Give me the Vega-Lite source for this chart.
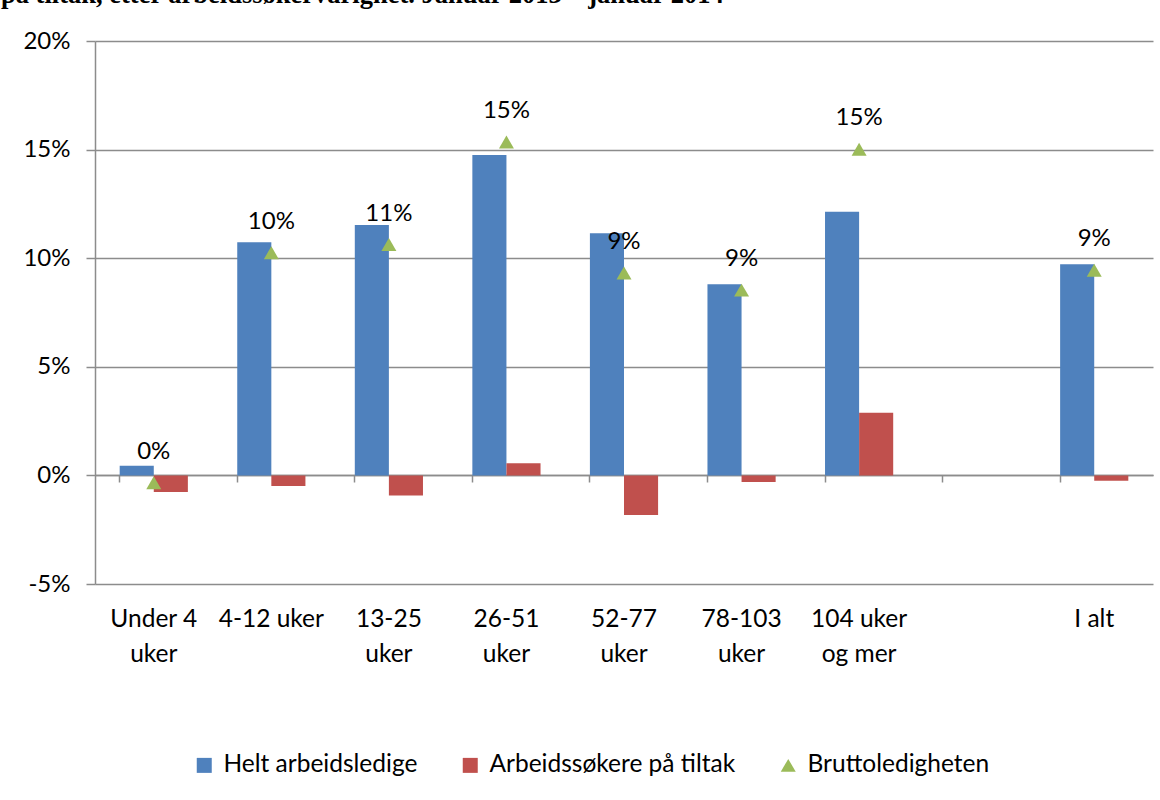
{
  "$schema": "https://vega.github.io/schema/vega-lite/v6.json",
  "autosize": {"type": "none"},
  "width": 1058,
  "height": 543,
  "padding": {"left": 95, "top": 41, "right": 7, "bottom": 216},
  "background": "white",
  "title": {
    "text": "på tiltak, etter arbeidssøkervarighet. Januar 2013 – januar 2014",
    "font": "Liberation Serif",
    "fontSize": 26.5,
    "fontWeight": "bold",
    "color": "black",
    "anchor": "start",
    "frame": "group",
    "dx": -94,
    "dy": -21,
    "offset": 0
  },
  "config": {
    "view": {"stroke": null},
    "font": "Lato",
    "axis": {"labelFont": "Lato", "labelColor": "black", "titleFont": "Lato"}
  },
  "data": {
    "values": [
      {"kategori": "Under 4 uker", "serie": "Helt arbeidsledige", "verdi": 0.0044},
      {"kategori": "Under 4 uker", "serie": "Arbeidssøkere på tiltak", "verdi": -0.0076},
      {"kategori": "Under 4 uker", "serie": "Bruttoledigheten", "verdi": -0.0034},
      {"kategori": "4-12 uker", "serie": "Helt arbeidsledige", "verdi": 0.1073},
      {"kategori": "4-12 uker", "serie": "Arbeidssøkere på tiltak", "verdi": -0.0049},
      {"kategori": "4-12 uker", "serie": "Bruttoledigheten", "verdi": 0.1025},
      {"kategori": "13-25 uker", "serie": "Helt arbeidsledige", "verdi": 0.1153},
      {"kategori": "13-25 uker", "serie": "Arbeidssøkere på tiltak", "verdi": -0.0093},
      {"kategori": "13-25 uker", "serie": "Bruttoledigheten", "verdi": 0.1063},
      {"kategori": "26-51 uker", "serie": "Helt arbeidsledige", "verdi": 0.1475},
      {"kategori": "26-51 uker", "serie": "Arbeidssøkere på tiltak", "verdi": 0.0056},
      {"kategori": "26-51 uker", "serie": "Bruttoledigheten", "verdi": 0.1535},
      {"kategori": "52-77 uker", "serie": "Helt arbeidsledige", "verdi": 0.1115},
      {"kategori": "52-77 uker", "serie": "Arbeidssøkere på tiltak", "verdi": -0.0182},
      {"kategori": "52-77 uker", "serie": "Bruttoledigheten", "verdi": 0.0932},
      {"kategori": "78-103 uker", "serie": "Helt arbeidsledige", "verdi": 0.0880},
      {"kategori": "78-103 uker", "serie": "Arbeidssøkere på tiltak", "verdi": -0.0030},
      {"kategori": "78-103 uker", "serie": "Bruttoledigheten", "verdi": 0.0853},
      {"kategori": "104 uker og mer", "serie": "Helt arbeidsledige", "verdi": 0.1214},
      {"kategori": "104 uker og mer", "serie": "Arbeidssøkere på tiltak", "verdi": 0.0289},
      {"kategori": "104 uker og mer", "serie": "Bruttoledigheten", "verdi": 0.1502},
      {"kategori": "I alt", "serie": "Helt arbeidsledige", "verdi": 0.0972},
      {"kategori": "I alt", "serie": "Arbeidssøkere på tiltak", "verdi": -0.0025},
      {"kategori": "I alt", "serie": "Bruttoledigheten", "verdi": 0.0945}
    ]
  },
  "encoding": {
    "x": {
      "field": "kategori",
      "type": "nominal",
      "sort": null,
      "scale": {
        "domain": ["Under 4 uker", "4-12 uker", "13-25 uker", "26-51 uker", "52-77 uker", "78-103 uker", "104 uker og mer", " ", "I alt"],
        "paddingInner": 0.42,
        "paddingOuter": 0.21
      }
    },
    "y": {
      "field": "verdi",
      "type": "quantitative",
      "scale": {"domain": [-0.05, 0.2], "nice": false, "zero": false},
      "axis": {
        "title": null,
        "values": [-0.05, 0, 0.05, 0.1, 0.15, 0.2],
        "format": ".0%",
        "labelExpr": "replace(datum.label, '−', '-')",
        "grid": true,
        "gridColor": "#8c8c8c",
        "gridWidth": 1.5,
        "domain": true,
        "domainColor": "#8c8c8c",
        "domainWidth": 1.5,
        "ticks": true,
        "tickColor": "#8c8c8c",
        "tickWidth": 1.5,
        "tickSize": 9,
        "labelPadding": 16,
        "labelFontSize": 24,
        "labelColor": "black"
      }
    },
    "color": {
      "field": "serie",
      "type": "nominal",
      "scale": {
        "domain": ["Helt arbeidsledige", "Arbeidssøkere på tiltak", "Bruttoledigheten"],
        "range": ["#4F81BD", "#C0504D", "#9BBB59"]
      },
      "legend": {
        "title": null,
        "orient": "none",
        "direction": "horizontal",
        "legendX": 97,
        "legendY": 712,
        "labelFont": "Lato",
        "labelFontSize": 24.5,
        "labelColor": "black",
        "symbolSize": 225,
        "symbolStrokeWidth": 0,
        "symbolOpacity": 1,
        "labelOffset": 7,
        "columnPadding": 40,
        "padding": 0,
        "labelLimit": 400
      }
    },
    "shape": {
      "field": "serie",
      "type": "nominal",
      "scale": {
        "domain": ["Helt arbeidsledige", "Arbeidssøkere på tiltak", "Bruttoledigheten"],
        "range": ["square", "square", "triangle-up"]
      },
      "legend": null
    }
  },
  "layer": [
    {
      "transform": [{"filter": "datum.serie !== 'Bruttoledigheten'"}],
      "mark": {"type": "bar", "opacity": 1},
      "encoding": {
        "xOffset": {
          "field": "serie",
          "type": "nominal",
          "scale": {"domain": ["Helt arbeidsledige", "Arbeidssøkere på tiltak"], "paddingInner": 0, "paddingOuter": 0}
        },
        "x": {
          "field": "kategori",
          "type": "nominal",
          "sort": null,
          "axis": {
            "title": null,
            "orient": "bottom",
            "offset": -109,
            "bandPosition": 0,
            "labels": false,
            "domain": true,
            "domainColor": "#8c8c8c",
            "domainWidth": 1.5,
            "ticks": true,
            "tickColor": "#8c8c8c",
            "tickWidth": 1.5,
            "tickSize": 7,
            "grid": false
          }
        }
      }
    },
    {
      "transform": [{"filter": "datum.serie === 'Bruttoledigheten'"}],
      "mark": {"type": "point", "filled": true, "size": 225, "opacity": 1},
      "encoding": {
        "x": {
          "field": "kategori",
          "type": "nominal",
          "sort": null,
          "axis": {
            "title": null,
            "orient": "bottom",
            "domain": false,
            "ticks": false,
            "grid": false,
            "labelAngle": 0,
            "labelFontSize": 24.5,
            "labelColor": "black",
            "labelPadding": 23,
            "labelBaseline": "top",
            "labelLineHeight": 35,
            "labelLimit": 0,
            "labelExpr": "datum.value == 'Under 4 uker' ? ['Under 4', 'uker'] : datum.value == '13-25 uker' ? ['13-25', 'uker'] : datum.value == '26-51 uker' ? ['26-51', 'uker'] : datum.value == '52-77 uker' ? ['52-77', 'uker'] : datum.value == '78-103 uker' ? ['78-103', 'uker'] : datum.value == '104 uker og mer' ? ['104 uker', 'og mer'] : datum.value"
          }
        }
      }
    },
    {
      "transform": [{"filter": "datum.serie === 'Bruttoledigheten'"}],
      "mark": {"type": "text", "fontSize": 24, "font": "Lato", "color": "black", "baseline": "alphabetic", "dy": -24},
      "encoding": {
        "x": {"field": "kategori", "type": "nominal", "sort": null, "axis": null},
        "text": {"field": "verdi", "type": "quantitative", "format": ".0%"},
        "color": {"value": "black"},
        "shape": null
      }
    }
  ],
  "resolve": {"axis": {"x": "independent"}}
}
